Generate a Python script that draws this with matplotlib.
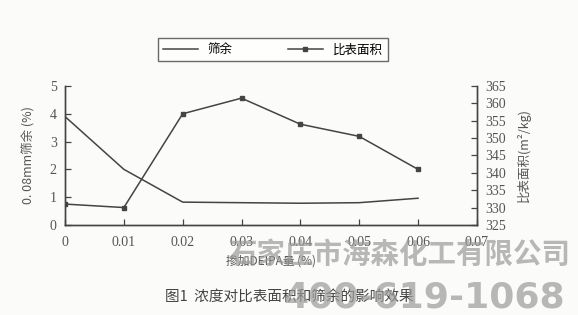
import numpy as np
import matplotlib.pyplot as plt

plt.rcParams['font.family'] = ['serif', 'Noto Sans CJK SC']
plt.rcParams['font.serif'] = ['Liberation Serif', 'DejaVu Serif']
plt.rcParams['xtick.direction'] = 'in'
plt.rcParams['ytick.direction'] = 'in'
plt.rcParams['axes.unicode_minus'] = False

# data
dose = [0, 0.01, 0.02, 0.03, 0.04, 0.05, 0.06]
residue = [3.9, 2.0, 0.82, 0.8, 0.78, 0.8, 0.96]          # 0.08mm sieve residue (%)
surface = [331, 330, 357, 361.5, 354, 350.5, 341]        # specific surface (m2/kg)
xticks = [0, 0.01, 0.02, 0.03, 0.04, 0.05, 0.06, 0.07]
xlabels = ['0', '0.01', '0.02', '0.03', '0.04', '0.05', '0.06', '0.07']
yticks_l = [0, 1, 2, 3, 4, 5]
yticks_r = [325, 330, 335, 340, 345, 350, 355, 360, 365]

ink = '#444444'
cjk = ['Noto Sans CJK SC', 'DejaVu Sans']

fig = plt.figure(figsize=(5.78, 3.15), dpi=100, facecolor='#fbfbf9')
ax = fig.add_axes([0.1125, 0.286, 0.7125, 0.441])
ax.set_facecolor('none')
ax2 = ax.twinx()

l1, = ax.plot(dose, residue, color=ink, lw=1.1)
l2, = ax2.plot(dose, surface, color=ink, lw=1.1, marker='s', markersize=3)

ax.set_xlim(0, 0.07)
ax.set_ylim(0, 5)
ax2.set_ylim(325, 365)
ax.set_xticks(xticks)
ax.set_xticklabels(xlabels, fontfamily='serif', fontsize=10)
ax.set_yticks(yticks_l)
ax.set_yticklabels([str(v) for v in yticks_l], fontfamily='serif', fontsize=10)
ax2.set_yticks(yticks_r)
ax2.set_yticklabels([str(v) for v in yticks_r], fontfamily='serif', fontsize=10)

for a in (ax, ax2):
    a.spines['top'].set_visible(False)
    for s in ('left', 'right', 'bottom'):
        a.spines[s].set_color(ink)
        a.spines[s].set_linewidth(1.0)
    a.tick_params(colors=ink, labelcolor='#555555', length=4, width=0.9)
ax.tick_params(axis='x', pad=8)
ax.tick_params(axis='y', pad=6)
ax2.tick_params(axis='y', pad=6)

ax.set_ylabel('0. 08mm筛余 (%)', family=cjk, fontsize=9, color='#555555', labelpad=10)
ax2.set_ylabel('比表面积(m²/kg)', family=cjk, fontsize=9, color='#555555', labelpad=8)
ax.set_xlabel('掺加DEIPA量 (%)', family=cjk, fontsize=8.5, color='#555555', labelpad=4)

fig.legend([l1, l2], ['筛余', '比表面积'], loc='center',
           bbox_to_anchor=(0.273, 0.797, 0.398, 0.089), mode='expand', ncol=2,
           frameon=True, fancybox=False, edgecolor=ink, prop={'family': cjk, 'size': 9},
           handlelength=2.8, borderaxespad=0)

fig.text(0.50, 0.057, '图1  浓度对比表面积和筛余的影响效果', family=cjk, fontsize=10.5,
         color='#444444', ha='center', va='center')

# watermark over the lower right
fig.text(0.395, 0.19, '石家庄市海森化工有限公司', family=cjk, fontsize=20.5, fontweight='bold',
         color='#9a9a9a', alpha=0.7, ha='left', va='center')
fig.text(0.49, 0.057, '400-619-1068', family=['DejaVu Sans'], fontsize=26, fontweight='bold',
         color='#9a9a9a', alpha=0.7, ha='left', va='center')

plt.savefig('out.png', dpi=100, facecolor=fig.get_facecolor())
